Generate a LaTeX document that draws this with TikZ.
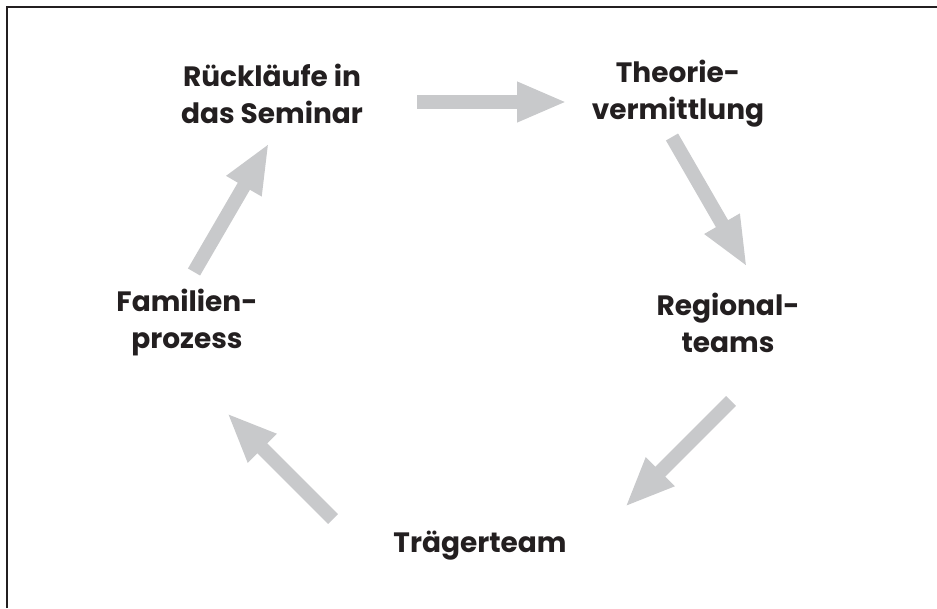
\documentclass[tikz,border=0pt]{standalone}
\usepackage{fontspec}
\setmainfont{Poppins}
\usepackage{tikz}
\usetikzlibrary{arrows.meta,positioning}
\definecolor{ink}{HTML}{231F20}
\definecolor{arrowgray}{HTML}{C8C9CB}

\begin{document}
\begin{tikzpicture}[x=1pt,y=-1pt,
  stage/.style={font=\fontsize{28}{37}\selectfont\bfseries,text=ink,align=center,inner sep=0pt},
  blockarrow/.style={draw=arrowgray,line width=14pt,-{Triangle[width=37pt,length=50pt]}}]
  \useasboundingbox (0,0) rectangle (937,608);
  % frame
  \draw[ink,line width=2.6pt] (7,608) -- (7,7) -- (937,7);
  % stages
  \node[stage] (rueck) at (272,94) {Rückläufe in\\das Seminar};
  \node[stage] (theo) at (678,94) {Theorie-\\vermittlung};
  \node[stage] (regio) at (728,323) {Regional-\\teams};
  \node[stage] (traeg) at (480,546) {Trägerteam};
  \node[stage] (fam) at (187,323) {Familien-\\prozess};
  % arrows
  \foreach \n/\s/\t in {a/{417,102}/{567,102}, b/{672,137}/{747,267}, c/{731,401}/{625,507}, d/{333,519}/{227,413}, e/{194,272}/{269,143}}{
    \coordinate (\n from) at (\s);
    \coordinate (\n to) at (\t);
    \draw[blockarrow] (\n from) -- (\n to);}
\end{tikzpicture}
\end{document}
